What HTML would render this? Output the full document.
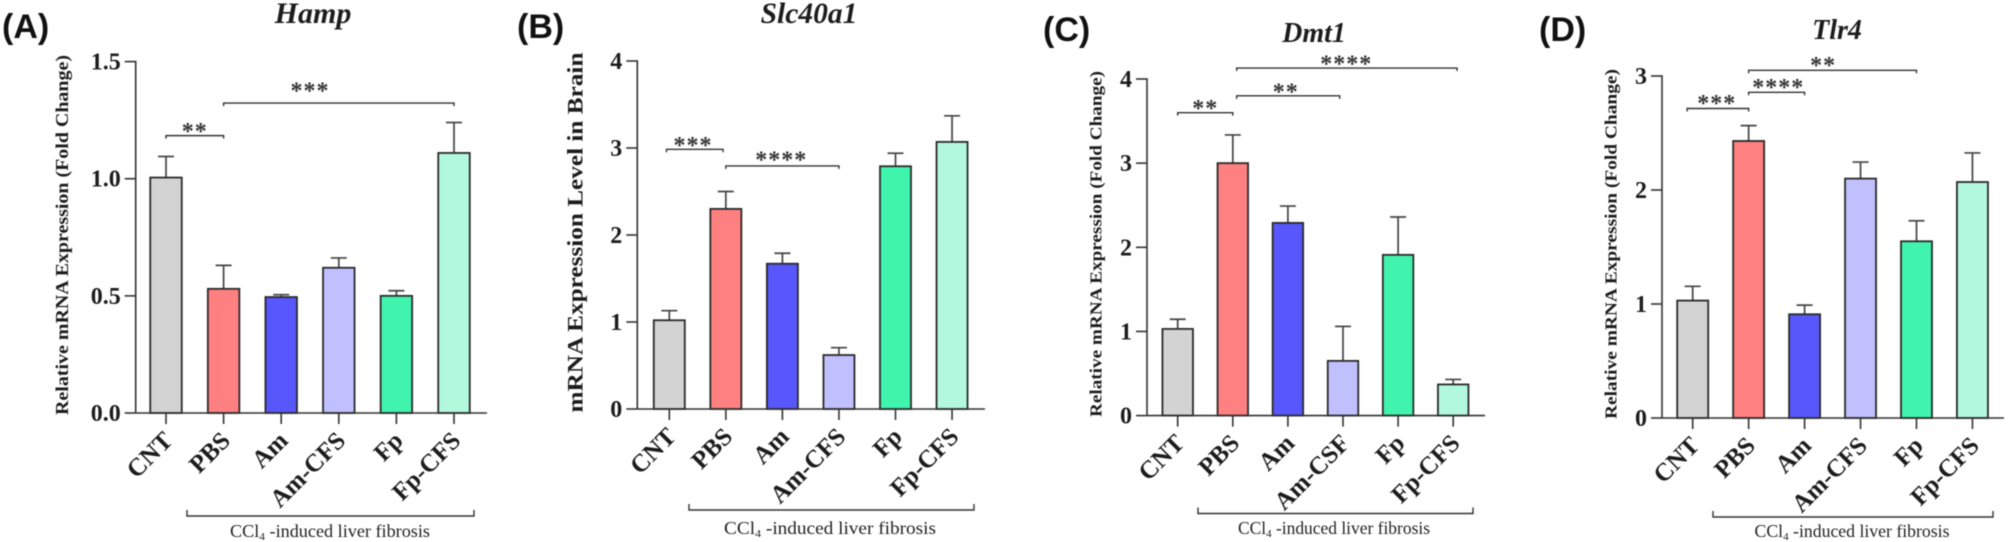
<!DOCTYPE html>
<html lang="en">
<head>
<meta charset="utf-8">
<title>mRNA expression bar charts</title>
<style>
html,body{margin:0;padding:0;background:#fff;}
body{width:2008px;height:542px;overflow:hidden;}
svg{display:block;filter:blur(0.45px);}
text{font-family:"Liberation Serif",serif;fill:#1c1c1c;}
.letter{font-family:"Liberation Sans",sans-serif;font-weight:700;font-size:34px;fill:#111;}
.title{font-weight:700;font-style:italic;text-anchor:middle;}
.tick{font-weight:700;font-size:24px;text-anchor:end;}
.cat{font-weight:700;font-size:25px;text-anchor:end;}
.ytitle{font-weight:700;text-anchor:middle;}
.star{font-weight:700;font-size:24px;letter-spacing:1px;text-anchor:middle;fill:#333;}
.note{font-size:17.5px;text-anchor:middle;fill:#222;}
</style>
</head>
<body>
<svg id="figure" width="2008" height="542" viewBox="0 0 2008 542" xmlns="http://www.w3.org/2000/svg"></svg>
<script>
// Shared
const barColors = ['#d3d3d3', '#ff8080', '#5757fb', '#c0c0ff', '#41f4ad', '#b2f8dd'];

// Panel A: Hamp
const hampCategories = ['CNT', 'PBS', 'Am', 'Am-CFS', 'Fp', 'Fp-CFS'];
const hampValues = [1.005, 0.53, 0.495, 0.62, 0.50, 1.11];
const hampErrors = [0.09, 0.10, 0.01, 0.042, 0.022, 0.13];
const hampTicks = [0, 0.5, 1.0, 1.5];
const hampTickLabels = ['0.0', '0.5', '1.0', '1.5'];
const hampSigFrom = [0, 1];
const hampSigTo = [1, 5];
const hampSigLevel = [1.184, 1.323];
const hampSigStars = ['**', '***'];
const hampSigLabelAt = [0.5, 2.5];

// Panel B: Slc40a1
const slcCategories = ['CNT', 'PBS', 'Am', 'Am-CFS', 'Fp', 'Fp-CFS'];
const slcValues = [1.02, 2.30, 1.67, 0.62, 2.79, 3.07];
const slcErrors = [0.11, 0.20, 0.12, 0.085, 0.15, 0.30];
const slcTicks = [0, 1, 2, 3, 4];
const slcTickLabels = ['0', '1', '2', '3', '4'];
const slcSigFrom = [-0.05, 1];
const slcSigTo = [0.95, 3];
const slcSigLevel = [2.985, 2.794];
const slcSigStars = ['***', '****'];
const slcSigLabelAt = [0.42, 1.98];

// Panel C: Dmt1
const dmtCategories = ['CNT', 'PBS', 'Am', 'Am-CSF', 'Fp', 'Fp-CFS'];
const dmtValues = [1.03, 3.0, 2.29, 0.65, 1.91, 0.37];
const dmtErrors = [0.115, 0.335, 0.20, 0.41, 0.45, 0.06];
const dmtTicks = [0, 1, 2, 3, 4];
const dmtTickLabels = ['0', '1', '2', '3', '4'];
const dmtSigFrom = [0, 1.07, 1.07];
const dmtSigTo = [1, 2.94, 5.07];
const dmtSigLevel = [3.60, 3.80, 4.13];
const dmtSigStars = ['**', '**', '****'];
const dmtSigLabelAt = [0.5, 1.96, 3.06];

// Panel D: Tlr4
const tlrCategories = ['CNT', 'PBS', 'Am', 'Am-CFS', 'Fp', 'Fp-CFS'];
const tlrValues = [1.03, 2.43, 0.91, 2.10, 1.55, 2.07];
const tlrErrors = [0.125, 0.135, 0.08, 0.145, 0.18, 0.255];
const tlrTicks = [0, 1, 2, 3];
const tlrTickLabels = ['0', '1', '2', '3'];
const tlrSigFrom = [-0.1, 1, 1];
const tlrSigTo = [1, 2, 4];
const tlrSigLevel = [2.715, 2.857, 3.05];
const tlrSigStars = ['***', '****', '**'];
const tlrSigLabelAt = [0.43, 1.53, 2.33];

const svgNS = 'http://www.w3.org/2000/svg';
const figure = document.getElementById('figure');

function make(parent, tag, attrs, content) {
  const el = document.createElementNS(svgNS, tag);
  for (const k in attrs) el.setAttribute(k, attrs[k]);
  if (content !== undefined) el.textContent = content;
  parent.appendChild(el);
  return el;
}

function drawPanel(p) {
  const group = make(figure, 'g', {});
  
  

  const xOf = i => p.x0 + i * p.step;
  const yOf = v => p.base - (v / p.max) * (p.base - p.top);

  const letter = make(group, 'text', {class: 'letter', x: p.letterX, y: p.letterY}, p.letter);
  
  

  const title = make(group, 'text', {class: 'title', x: p.titleX, y: p.titleY, 'font-size': p.titleSize}, p.title);
  
  

  const ymid = (p.ytTop + p.ytBottom) / 2;
  const ytitle = make(group, 'text', {
    class: 'ytitle', x: p.ytX, y: ymid, 'font-size': p.ytSize,
    textLength: p.ytBottom - p.ytTop, lengthAdjust: 'spacingAndGlyphs',
    transform: 'rotate(-90 ' + p.ytX + ' ' + ymid + ')'
  }, p.yTitle);
  
  

  // bars and error bars
  p.values.forEach((v, i) => {
    const cx = xOf(i);
    const errTop = yOf(v + p.errors[i]);
    const err = make(group, 'line', {x1: cx, x2: cx, y1: yOf(v), y2: errTop, stroke: '#444', 'stroke-width': 1.7});
    
    
    const cap = make(group, 'line', {x1: cx - 8, x2: cx + 8, y1: errTop, y2: errTop, stroke: '#444', 'stroke-width': 1.7});
    
    
    const bar = make(group, 'rect', {
      x: cx - p.barW / 2, y: yOf(v), width: p.barW, height: p.base - yOf(v),
      fill: barColors[i], stroke: '#2a2a2a', 'stroke-width': 1.8
    });
    
    
  });

  // y axis
  const yAxis = make(group, 'line', {x1: p.axisX, x2: p.axisX, y1: p.top - 0.8, y2: p.base, stroke: '#333', 'stroke-width': 1.6});
  
  
  p.ticks.forEach((t, i) => {
    const tick = make(group, 'line', {x1: p.axisX - 11, x2: p.axisX, y1: yOf(t), y2: yOf(t), stroke: '#333', 'stroke-width': 1.6});
    
    
    const label = make(group, 'text', {class: 'tick', x: p.axisX - 15, y: yOf(t) + 8}, p.tickLabels[i]);
    
    
  });

  // x axis
  const xAxis = make(group, 'line', {x1: p.axisX, x2: p.axisEnd, y1: p.base, y2: p.base, stroke: '#333', 'stroke-width': 1.6});
  
  
  p.categories.forEach((c, i) => {
    const cx = xOf(i);
    const tick = make(group, 'line', {x1: cx, x2: cx, y1: p.base, y2: p.base + 11, stroke: '#333', 'stroke-width': 1.6});
    
    
    const lx = cx + 8, ly = p.base + 29;
    const label = make(group, 'text', {class: 'cat', x: lx, y: ly, transform: 'rotate(-45 ' + lx + ' ' + ly + ')'}, c);
    
    
  });

  // significance brackets
  p.sigStars.forEach((s, i) => {
    const y = yOf(p.sigLevel[i]);
    const a = xOf(p.sigFrom[i]), b = xOf(p.sigTo[i]);
    const br = make(group, 'path', {d: 'M' + a + ' ' + (y + 3) + 'V' + y + 'H' + b + 'V' + (y + 3), fill: 'none', stroke: '#333', 'stroke-width': 1.4});
    
    
    const st = make(group, 'text', {class: 'star', x: xOf(p.sigLabelAt[i]), y: y + 3.5 - (p.starLift ? p.starLift[i] : 0)}, s);
    
    
  });

  // group bracket and caption
  const gb = make(group, 'path', {d: 'M' + p.gbFrom + ' ' + (p.gbY - 6) + 'V' + p.gbY + 'H' + p.gbTo + 'V' + (p.gbY - 6), fill: 'none', stroke: '#333', 'stroke-width': 1.4});
  
  
  const note = make(group, 'text', {class: 'note', x: p.noteX, y: p.noteY, textLength: p.noteW, lengthAdjust: 'spacingAndGlyphs'});
  
  
  make(note, 'tspan', {}, 'CCl');
  make(note, 'tspan', {dy: 3, 'font-size': 11}, '4');
  make(note, 'tspan', {dy: -3}, ' -induced liver fibrosis');
}

drawPanel({key: 'a', letter: '(A)', letterX: 2, letterY: 38, title: 'Hamp', titleX: 313, titleY: 23, titleSize: 30,
  yTitle: 'Relative mRNA Expression (Fold Change)', ytX: 68, ytTop: 55, ytBottom: 415, ytSize: 17.5,
  axisX: 135.7, axisEnd: 487, top: 61.6, base: 413, max: 1.5, x0: 166, step: 57.6, barW: 31.5, starLift: [0, 8],
  categories: hampCategories, values: hampValues, errors: hampErrors, ticks: hampTicks, tickLabels: hampTickLabels,
  sigFrom: hampSigFrom, sigTo: hampSigTo, sigLevel: hampSigLevel, sigStars: hampSigStars, sigLabelAt: hampSigLabelAt,
  gbFrom: 187, gbTo: 474, gbY: 516, noteX: 330, noteY: 537, noteW: 200});

drawPanel({key: 'b', letter: '(B)', letterX: 517, letterY: 38, title: 'Slc40a1', titleX: 809, titleY: 23, titleSize: 29.5,
  yTitle: 'mRNA Expression Level in Brain', ytX: 582.5, ytTop: 52.5, ytBottom: 412.5, ytSize: 22,
  axisX: 637.3, axisEnd: 985, top: 61, base: 409, max: 4, x0: 669.3, step: 56.55, barW: 31, starLift: [0, 2],
  categories: slcCategories, values: slcValues, errors: slcErrors, ticks: slcTicks, tickLabels: slcTickLabels,
  sigFrom: slcSigFrom, sigTo: slcSigTo, sigLevel: slcSigLevel, sigStars: slcSigStars, sigLabelAt: slcSigLabelAt,
  gbFrom: 689, gbTo: 974, gbY: 510, noteX: 830, noteY: 534, noteW: 212});

drawPanel({key: 'c', letter: '(C)', letterX: 1043, letterY: 41, title: 'Dmt1', titleX: 1314, titleY: 42, titleSize: 28,
  yTitle: 'Relative mRNA Expression (Fold Change)', ytX: 1101.5, ytTop: 71, ytBottom: 417, ytSize: 17,
  axisX: 1147, axisEnd: 1485, top: 79, base: 415.6, max: 4, x0: 1177.7, step: 55.1, barW: 30.5,
  categories: dmtCategories, values: dmtValues, errors: dmtErrors, ticks: dmtTicks, tickLabels: dmtTickLabels,
  sigFrom: dmtSigFrom, sigTo: dmtSigTo, sigLevel: dmtSigLevel, sigStars: dmtSigStars, sigLabelAt: dmtSigLabelAt,
  gbFrom: 1198, gbTo: 1473, gbY: 513.5, noteX: 1334, noteY: 534, noteW: 192});

drawPanel({key: 'd', letter: '(D)', letterX: 1539, letterY: 41, title: 'Tlr4', titleX: 1837, titleY: 39, titleSize: 28,
  yTitle: 'Relative mRNA Expression (Fold Change)', ytX: 1616.5, ytTop: 69, ytBottom: 419, ytSize: 17,
  axisX: 1662, axisEnd: 2004, top: 76, base: 418, max: 3, x0: 1692.7, step: 55.95, barW: 31, starLift: [1, 1, 1],
  categories: tlrCategories, values: tlrValues, errors: tlrErrors, ticks: tlrTicks, tickLabels: tlrTickLabels,
  sigFrom: tlrSigFrom, sigTo: tlrSigTo, sigLevel: tlrSigLevel, sigStars: tlrSigStars, sigLabelAt: tlrSigLabelAt,
  gbFrom: 1713, gbTo: 1993, gbY: 517, noteX: 1852, noteY: 537, noteW: 195});
</script>
</body>
</html>
